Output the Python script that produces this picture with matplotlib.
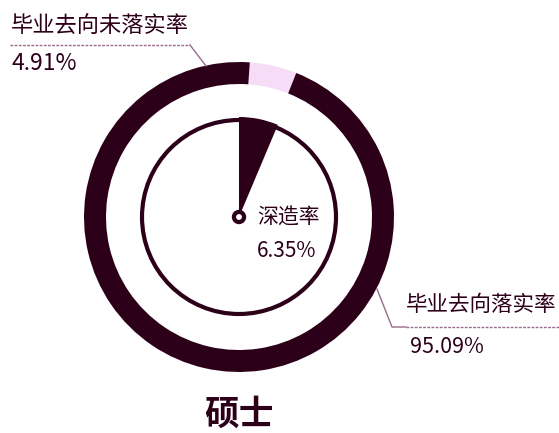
import matplotlib
matplotlib.use("Agg")
import matplotlib.pyplot as plt
from matplotlib.patches import Circle

plt.rcParams['font.family'] = ['Noto Sans CJK SC', 'DejaVu Sans']

# data
outer_labels = ["毕业去向未落实率", "毕业去向落实率"]
outer_values = [4.91, 95.09]
inner_label = "深造率"
inner_value = 6.35
title = "硕士"

DARK = "#2d0019"
PINK = "#f6dcf6"
LEADER = "#9a6a8a"

W, H = 559, 433
fig = plt.figure(figsize=(W / 100, H / 100), dpi=100)
ax = fig.add_axes([0, 0, 1, 1])

cx, cy = 239, H - 217

# outer donut
ax.pie(outer_values, colors=[PINK, DARK], startangle=86, counterclock=False,
       radius=155, center=(cx, cy), wedgeprops=dict(width=22, linewidth=0),
       frame=True)

# inner gauge circle
ax.add_patch(Circle((cx, cy), 97, fill=False, edgecolor=DARK, linewidth=3.0))

# inner pointer wedge
ax.pie([inner_value, 100 - inner_value], colors=[DARK, 'none'], startangle=90,
       counterclock=False, radius=100, center=(cx, cy),
       wedgeprops=dict(linewidth=0), frame=True)

ax.add_patch(Circle((cx, cy), 6.5, color=DARK, zorder=5))
ax.add_patch(Circle((cx, cy), 2.2, color='white', zorder=6))

ax.set_xlim(0, W)
ax.set_ylim(0, H)
ax.set_aspect('equal')
ax.axis('off')

# inner labels
ax.text(257, H - 218, inner_label, fontsize=15, color=DARK, va='center', ha='left')
ax.text(257, H - 251, f"{inner_value:.2f}%", fontsize=15, color=DARK, va='center', ha='left')

# outer labels with leader lines
ax.text(11, H - 25, outer_labels[0], fontsize=16, color=DARK, va='center', ha='left')
ax.text(11, H - 63, f"{outer_values[0]:.2f}%", fontsize=16.5, color=DARK, va='center', ha='left')
ax.plot([10, 190], [H - 45, H - 45], color=LEADER, linewidth=1, linestyle=(0, (2, 1)))
ax.plot([190, 206], [H - 45, H - 66], color=LEADER, linewidth=1)

ax.text(406, H - 305, outer_labels[1], fontsize=15.5, color=DARK, va='center', ha='left')
ax.text(410, H - 347, f"{outer_values[1]:.2f}%", fontsize=15.5, color=DARK, va='center', ha='left')
ax.plot([406, 559], [H - 327, H - 327], color=LEADER, linewidth=1, linestyle=(0, (2, 1)))
ax.plot([377, 392, 406], [H - 289, H - 327, H - 327], color=LEADER, linewidth=1)

ax.text(cx, H - 414, title, fontsize=25, fontweight='bold', color=DARK, va='center', ha='center')

fig.savefig("out.png", dpi=100)
